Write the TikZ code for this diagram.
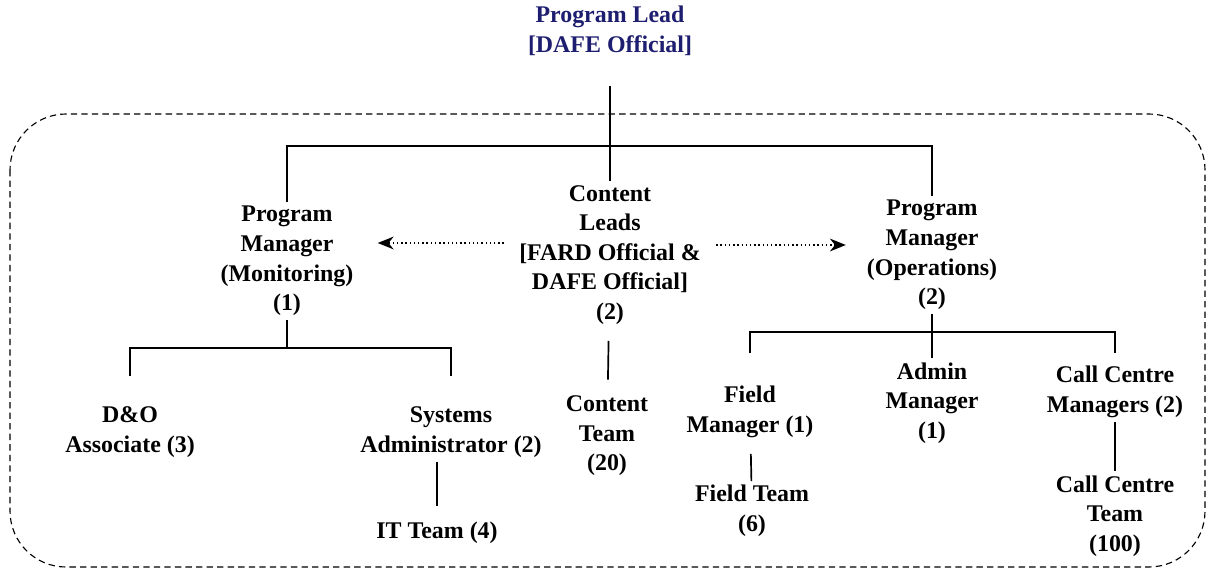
\documentclass[tikz,border=0pt]{standalone}
\usepackage{fontspec}
\setmainfont{Liberation Serif}
\usetikzlibrary{arrows.meta}
\definecolor{leadblue}{RGB}{30,30,112}
\begin{document}
\begin{tikzpicture}[x=0.025cm,y=-0.025cm,
	role/.style={align=center,inner sep=0.1cm,font=\fontsize{17}{21}\selectfont\bfseries},
	link/.style={line width=1.2pt},
	info/.style={line width=1pt,dash pattern=on 1pt off 2pt,-{Stealth[length=0.4cm,width=0.32cm]}},
	group/.style={line width=0.8pt,dash pattern=on 4.5pt off 3pt,rounded corners=1.4cm}]
	\useasboundingbox (0,0) rectangle (1210,571);
	\draw[group] (10,114) rectangle (1205,567);
	\node[role,text=leadblue] (lead) at (610,31) {Program Lead\\{[DAFE Official]}};
	\node[role] (leads) at (610,255) {Content\\Leads\\{[FARD Official \&}\\DAFE Official]\\(2)};
	\node[role] (pmm) at (287,261) {Program\\Manager\\(Monitoring)\\(1)};
	\node[role] (pmo) at (932,255) {Program\\Manager\\(Operations)\\(2)};
	\node[role] (dao) at (130,432) {D\&O\\Associate (3)};
	\node[role] (sys) at (451,432) {Systems\\Administrator (2)};
	\node[role] (it) at (437,533) {IT Team (4)};
	\node[role] (ctm) at (607,436) {Content\\Team\\(20)};
	\node[role] (fm) at (750,412) {Field\\Manager (1)};
	\node[role] (ft) at (752,511) {Field Team\\(6)};
	\node[role] (admin) at (932,403) {Admin\\Manager\\(1)};
	\node[role] (ccm) at (1115,392) {Call Centre\\Managers (2)};
	\node[role] (cct) at (1115,516) {Call Centre\\Team\\(100)};
	\coordinate (topbar) at (610,146);
	\coordinate (midbar) at (287,348);
	\coordinate (opsbar) at (932,332);
	\coordinate (infoL) at (0,243);
	\coordinate (infoR) at (0,245);
	\draw[link,shorten <=0.65cm] (lead) -- (leads);
	\draw[link] (pmm.north) |- (topbar) -| (pmo.north);
	\draw[link] (pmm.south) -- (midbar);
	\draw[link,shorten <=0.65cm,shorten >=0.65cm] (dao.north) |- (midbar) -| (sys.north);
	\draw[link,shorten >=0.3cm] (sys.south -| it.north) -- (it.north);
	\draw[link,shorten <=0.3cm,shorten >=0.3cm] (leads) -- (ctm);
	\draw[link] (pmo.south) -- (admin.north);
	\draw[link,shorten <=0.72cm,shorten >=0.22cm] (fm.north) |- (opsbar) -| (ccm.north);
	\draw[link,shorten <=0.3cm] (fm) -- (ft);
	\draw[link] (ccm) -- (cct);
	\draw[info,shorten <=0.28cm,shorten >=0.5cm] (leads.west |- infoL) -- (pmm.east |- infoL);
	\draw[info,shorten <=0.28cm,shorten >=0.42cm] (leads.east |- infoR) -- (pmo.west |- infoR);
\end{tikzpicture}
\end{document}
